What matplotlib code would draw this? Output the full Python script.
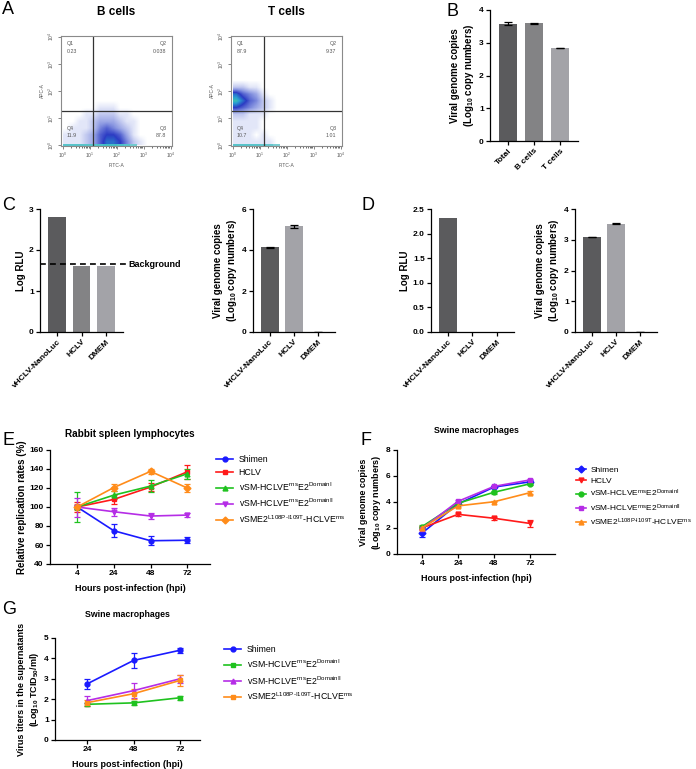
import numpy as np
import matplotlib
matplotlib.use("Agg")
import matplotlib.pyplot as plt
from matplotlib.colors import LinearSegmentedColormap
from matplotlib.lines import Line2D

plt.rcParams["font.family"] = ["Liberation Sans", "DejaVu Sans"]
plt.rcParams["mathtext.fontset"] = "custom"
plt.rcParams["mathtext.rm"] = "Liberation Sans"
plt.rcParams["mathtext.it"] = "Liberation Sans:italic"
plt.rcParams["mathtext.bf"] = "Liberation Sans:bold"
plt.rcParams["axes.linewidth"] = 0.9

# ---- A: flow cytometry, coarse density
# quarter-decade bins, rows go up from APC 10^0, columns go right from FITC 10^0
b_cells_density = [
    [1, 1, 1, 2, 3, 5, 7, 7, 6, 4, 2, 1, 0, 0, 0, 0],
    [1, 1, 1, 2, 3, 5, 6, 6, 5, 3, 1, 0, 0, 0, 0, 0],
    [0, 1, 1, 1, 2, 4, 5, 4, 3, 2, 1, 0, 0, 0, 0, 0],
    [0, 0, 1, 1, 2, 3, 3, 3, 2, 1, 1, 0, 0, 0, 0, 0],
    [0, 0, 0, 1, 1, 2, 2, 2, 1, 1, 0, 0, 0, 0, 0, 0],
    [0, 0, 0, 0, 0, 1, 1, 1, 0, 0, 0, 0, 0, 0, 0, 0],
]
b_cells_edge = [6, 6, 6, 6, 6, 7, 8, 8, 7, 6, 4, 0, 0, 0, 0, 0]
t_cells_density = [
    [1, 1, 1, 1, 1, 1, 0, 0],
    [1, 1, 1, 0, 1, 0, 0, 0],
    [1, 1, 1, 1, 0, 0, 0, 0],
    [1, 1, 1, 1, 0, 0, 0, 0],
    [2, 2, 1, 1, 1, 0, 0, 0],
    [6, 5, 4, 3, 2, 1, 0, 0],
    [9, 7, 5, 4, 2, 1, 0, 0],
    [7, 5, 4, 3, 1, 0, 0, 0],
    [2, 2, 1, 1, 0, 0, 0, 0],
]
t_cells_edge = [6, 6, 6, 6, 5, 5, 3, 0]
b_cells_gate = (1.13, 1.25)
t_cells_gate = (1.17, 1.25)
b_cells_quads = ["0.23", "0.038", "87.8", "11.9"]   # Q1, Q2, Q3, Q4
t_cells_quads = ["87.9", "9.37", "1.01", "10.7"]

# ---- B
b_groups = ["Total", "B cells", "T cells"]
b_copies = [3.58, 3.59, 2.84]
b_copies_err = [0.04, 0.02, 0.01]

# ---- C / D
cd_groups = ["vHCLV-NanoLuc", "HCLV", "DMEM"]
c_rlu = [2.80, 1.62, 1.62]
c_background = 1.65
c_copies = [4.13, 5.15, 0.0]
c_copies_err = [0.03, 0.08, 0.0]
d_rlu = [2.31, 0.0, 0.0]
d_copies = [3.08, 3.52, 0.0]
d_copies_err = [0.0, 0.015, 0.0]

# ---- E: rabbit spleen lymphocytes, relative replication (%)
hpi_4 = ["4", "24", "48", "72"]
e_shimen = [100, 75, 64.5, 65]
e_shimen_err = [2, 7, 5, 3]
e_hclv = [100, 108, 121, 137]
e_hclv_err = [5, 5, 4, 7]
e_dom1 = [100, 112.5, 122, 135]
e_dom1_err = [16, 4, 6, 5]
e_dom2 = [100, 95, 90.5, 91.5]
e_dom2_err = [10, 4, 3, 2]
e_l108 = [100, 120.5, 137.5, 120]
e_l108_err = [3, 4, 3, 4]

# ---- F: swine macrophages, genome copies
f_shimen = [1.6, 3.85, 5.15, 5.55]
f_shimen_err = [0.3, 0.1, 0.1, 0.12]
f_hclv = [2.0, 3.05, 2.75, 2.35]
f_hclv_err = [0.1, 0.1, 0.1, 0.3]
f_dom1 = [2.1, 3.9, 4.75, 5.4]
f_dom1_err = [0.1, 0.1, 0.1, 0.1]
f_dom2 = [1.95, 4.05, 5.2, 5.7]
f_dom2_err = [0.1, 0.1, 0.1, 0.1]
f_l108 = [2.0, 3.7, 4.02, 4.72]
f_l108_err = [0.05, 0.1, 0.05, 0.1]

# ---- G: swine macrophages, titres
hpi_3 = ["24", "48", "72"]
g_shimen = [2.75, 3.9, 4.4]
g_shimen_err = [0.25, 0.38, 0.12]
g_dom1 = [1.75, 1.82, 2.07]
g_dom1_err = [0.08, 0.1, 0.1]
g_dom2 = [1.93, 2.42, 3.0]
g_dom2_err = [0.25, 0.35, 0.2]
g_l108 = [1.83, 2.27, 2.92]
g_l108_err = [0.15, 0.25, 0.28]

lab_shimen = "Shimen"
lab_hclv = "HCLV"
lab_dom1 = r"vSM-HCLVE$^{\mathrm{rns}}$E2$^{\mathrm{DomainI}}$"
lab_dom2 = r"vSM-HCLVE$^{\mathrm{rns}}$E2$^{\mathrm{DomainII}}$"
lab_l108 = r"vSME2$^{\mathrm{L108P\text{-}I109T}}$-HCLVE$^{\mathrm{rns}}$"

BLUE, RED, GREEN, PURPLE, ORANGE = "#1a1aff", "#ff1a1a", "#1fc21f", "#b52de6", "#ff8c1a"
DARK, MID, LIGHT = "#5b5b5d", "#838385", "#a3a3a8"

W, H = 696, 769
fig = plt.figure(figsize=(W / 100, H / 100), dpi=100)


def box(l, t, r, b):
    return fig.add_axes([l / W, 1 - b / H, (r - l) / W, (b - t) / H])


def letter(x, y, s):
    fig.text(x / W, 1 - y / H, s, fontsize=13, va="top", ha="left")


flow_cmap = LinearSegmentedColormap.from_list(
    "flow", [(0, "white"), (0.1, "#e2e6f8"), (0.35, "#8d9ae2"),
             (0.6, "#2c3cc4"), (0.8, "#2a9ed2"), (1.0, "#4ede94")])
edge_cmap = LinearSegmentedColormap.from_list("edge", ["#9fd8dc", "#2ab8c0"])


def flow_plot(ax, density, edge, gate, quads, title):
    grid = np.zeros((16, 16))
    d = np.array(density, float)
    grid[:d.shape[0], :d.shape[1]] = d
    ax.imshow(grid, origin="lower", extent=(0, 4, 0, 4), cmap=flow_cmap,
              vmin=0, vmax=10, interpolation="bilinear", aspect="auto")
    strip = np.ma.masked_equal(np.array([edge], float), 0)
    ax.imshow(strip, origin="lower", extent=(0, len(edge) * 0.25, -0.02, 0.05),
              cmap=edge_cmap, vmin=0, vmax=10, interpolation="nearest", aspect="auto")
    ax.axvline(gate[0], color="#333333", lw=0.9)
    ax.axhline(gate[1], color="#333333", lw=0.9)
    ax.set_xlim(-0.07, 4.05)
    ax.set_ylim(-0.03, 4.03)
    ticks = [0, 1, 2, 3, 4]
    labels = [rf"$10^{{{t}}}$" for t in ticks]
    ax.set_xticks(ticks)
    ax.set_xticklabels(labels)
    ax.set_yticks(ticks)
    ax.set_yticklabels(labels, rotation=90, va="center")
    minor = [k + np.log10(m) for k in range(4) for m in range(2, 10)]
    ax.set_xticks(minor, minor=True)
    ax.tick_params(labelsize=3.5, colors="#555555", length=2, width=0.5, pad=1.5)
    ax.tick_params(which="minor", length=1.2, width=0.4)
    for s in ax.spines.values():
        s.set_color("#8a8a8a")
        s.set_linewidth(0.8)
    ax.set_xlabel("FITC-A", fontsize=3.5, color="#555555", labelpad=2)
    ax.set_ylabel("APC-A", fontsize=3.5, color="#555555", labelpad=1)
    kw = dict(transform=ax.transAxes, fontsize=3.8, color="#555555", linespacing=1.6)
    ax.text(0.05, 0.95, "Q1\n" + quads[0], ha="left", va="top", **kw)
    ax.text(0.95, 0.95, "Q2\n" + quads[1], ha="right", va="top", **kw)
    ax.text(0.95, 0.07, "Q3\n" + quads[2], ha="right", va="bottom", **kw)
    ax.text(0.05, 0.07, "Q4\n" + quads[3], ha="left", va="bottom", **kw)
    ax.set_title(title, fontsize=8.5, fontweight="bold", pad=15)


def style_axes(ax):
    for s in ["top", "right"]:
        ax.spines[s].set_visible(False)
    ax.tick_params(direction="out", length=3, width=0.9, labelsize=6, pad=1.5)
    for t in ax.get_xticklabels() + ax.get_yticklabels():
        t.set_fontweight("bold")


def bar_plot(ax, groups, vals, errs, colors, ymax, yticks, ylabel):
    x = np.arange(len(groups))
    ax.bar(x, vals, width=0.72, color=colors, zorder=2)
    if errs is not None:
        ax.errorbar(x, vals, yerr=errs, fmt="none", ecolor="black",
                    elinewidth=0.9, capsize=3, capthick=0.9, zorder=3)
    ax.set_xlim(-0.7, 2.7)
    ax.set_ylim(0, ymax)
    ax.set_yticks(yticks)
    ax.set_xticks(x)
    ax.set_xticklabels(groups, rotation=45, ha="right", rotation_mode="anchor")
    ax.set_ylabel(ylabel, fontsize=7, fontweight="bold", labelpad=2)
    style_axes(ax)


def line_plot(ax, labels, series, markers, colors, xlabels):
    x = np.arange(len(xlabels))
    handles = []
    for lab, (v, e), m, c in zip(labels, series, markers, colors):
        ax.errorbar(x, v, yerr=e, color=c, marker=m, markersize=3.5, lw=1.2,
                    elinewidth=0.9, capsize=2.2, capthick=0.9, clip_on=False)
        handles.append(Line2D([], [], color=c, marker=m, markersize=3.5, lw=1.2, label=lab))
    ax.set_xticks(x)
    ax.set_xticklabels(xlabels)
    ax.set_xlabel("Hours post-infection (hpi)", fontsize=6.5, fontweight="bold", labelpad=5)
    style_axes(ax)
    return handles


copies_label = "Viral genome copies\n(Log$_{\\mathbf{10}}$ copy numbers)"

# A
ax = box(61, 36, 172, 146)
flow_plot(ax, b_cells_density, b_cells_edge, b_cells_gate, b_cells_quads, "B cells")
ax = box(231, 36, 342, 146)
flow_plot(ax, t_cells_density, t_cells_edge, t_cells_gate, t_cells_quads, "T cells")
letter(2, 1, "A")

# B
ax = box(490, 10, 578, 141)
bar_plot(ax, b_groups, b_copies, b_copies_err, [DARK, MID, LIGHT], 4, [0, 1, 2, 3, 4], copies_label)
letter(447, 3, "B")

# C
ax = box(40, 209, 123, 332)
bar_plot(ax, cd_groups, c_rlu, None, [DARK, MID, LIGHT], 3, [0, 1, 2, 3], "Log RLU")
ax.plot([-0.7, 2.9], [c_background, c_background], ls=(0, (3.5, 2.5)), color="black",
        lw=1.2, clip_on=False, zorder=4)
ax.text(2.93, c_background, "Background", fontsize=6.5, fontweight="bold", va="center", ha="left")
ax = box(253, 209, 335, 332)
bar_plot(ax, cd_groups, c_copies, c_copies_err, [DARK, LIGHT, LIGHT], 6, [0, 2, 4, 6], copies_label)
letter(2, 197, "C")

# D
ax = box(431, 209, 514, 332)
bar_plot(ax, cd_groups, d_rlu, None, [DARK, MID, LIGHT], 2.5, [0, 0.5, 1.0, 1.5, 2.0, 2.5], "Log RLU")
ax.set_yticklabels(["0.0", "0.5", "1.0", "1.5", "2.0", "2.5"], fontweight="bold")
ax = box(575, 209, 657, 332)
bar_plot(ax, cd_groups, d_copies, d_copies_err, [DARK, LIGHT, LIGHT], 4, [0, 1, 2, 3, 4], copies_label)
letter(362, 197, "D")

# E
ax = box(50, 450, 210, 564)
h = line_plot(ax, [lab_shimen, lab_hclv, lab_dom1, lab_dom2, lab_l108],
              [(e_shimen, e_shimen_err), (e_hclv, e_hclv_err), (e_dom1, e_dom1_err),
               (e_dom2, e_dom2_err), (e_l108, e_l108_err)],
              ["o", "s", "^", "v", "D"], [BLUE, RED, GREEN, PURPLE, ORANGE], hpi_4)
ax.set_xlim(-0.74, 3.62)
ax.set_ylim(40, 160)
ax.set_yticks(range(40, 161, 20))
ax.set_ylabel("Relative replication rates (%)", fontsize=7, fontweight="bold", labelpad=2)
ax.set_title("Rabbit spleen lymphocytes", fontsize=7.2, fontweight="bold", pad=9)
ax.legend(handles=h, loc="upper left", bbox_to_anchor=(208 / W, 1 - 447 / H),
          bbox_transform=fig.transFigure, frameon=False, fontsize=6.3,
          handlelength=2.0, handletextpad=0.6, labelspacing=0.45)
letter(2, 432, "E")

# F
ax = box(397, 450, 555, 554)
h = line_plot(ax, [lab_shimen, lab_hclv, lab_dom1, lab_dom2, lab_l108],
              [(f_shimen, f_shimen_err), (f_hclv, f_hclv_err), (f_dom1, f_dom1_err),
               (f_dom2, f_dom2_err), (f_l108, f_l108_err)],
              ["D", "v", "o", "s", "^"], [BLUE, RED, GREEN, PURPLE, ORANGE], hpi_4)
ax.set_xlim(-0.69, 3.69)
ax.set_ylim(0, 8)
ax.set_yticks([0, 2, 4, 6, 8])
ax.set_ylabel(copies_label, fontsize=6.5, fontweight="bold", labelpad=2)
ax.set_title("Swine macrophages", fontsize=6.3, fontweight="bold", pad=12)
ax.legend(handles=h, loc="upper left", bbox_to_anchor=(568 / W, 1 - 459 / H),
          bbox_transform=fig.transFigure, frameon=False, fontsize=6.0,
          handlelength=1.3, handletextpad=0.5, labelspacing=0.35)
letter(361, 432, "F")

# G
ax = box(55, 638, 200, 740)
h = line_plot(ax, [lab_shimen, lab_dom1, lab_dom2, lab_l108],
              [(g_shimen, g_shimen_err), (g_dom1, g_dom1_err), (g_dom2, g_dom2_err),
               (g_l108, g_l108_err)],
              ["o", "s", "^", "s"], [BLUE, GREEN, PURPLE, ORANGE], hpi_3)
ax.set_xlim(-0.69, 2.43)
ax.set_ylim(0, 5)
ax.set_yticks(range(6))
ax.set_ylabel("Virus titers in the supernatants\n(Log$_{\\mathbf{10}}$ TCID$_{\\mathbf{50}}$/ml)",
              fontsize=6.5, fontweight="bold", labelpad=2)
ax.set_title("Swine macrophages", fontsize=6.3, fontweight="bold", pad=15)
ax.legend(handles=h, loc="upper left", bbox_to_anchor=(216 / W, 1 - 637 / H),
          bbox_transform=fig.transFigure, frameon=False, fontsize=6.3,
          handlelength=2.0, handletextpad=0.6, labelspacing=0.45)
letter(2, 601, "G")

fig.savefig("out.png", dpi=100)
